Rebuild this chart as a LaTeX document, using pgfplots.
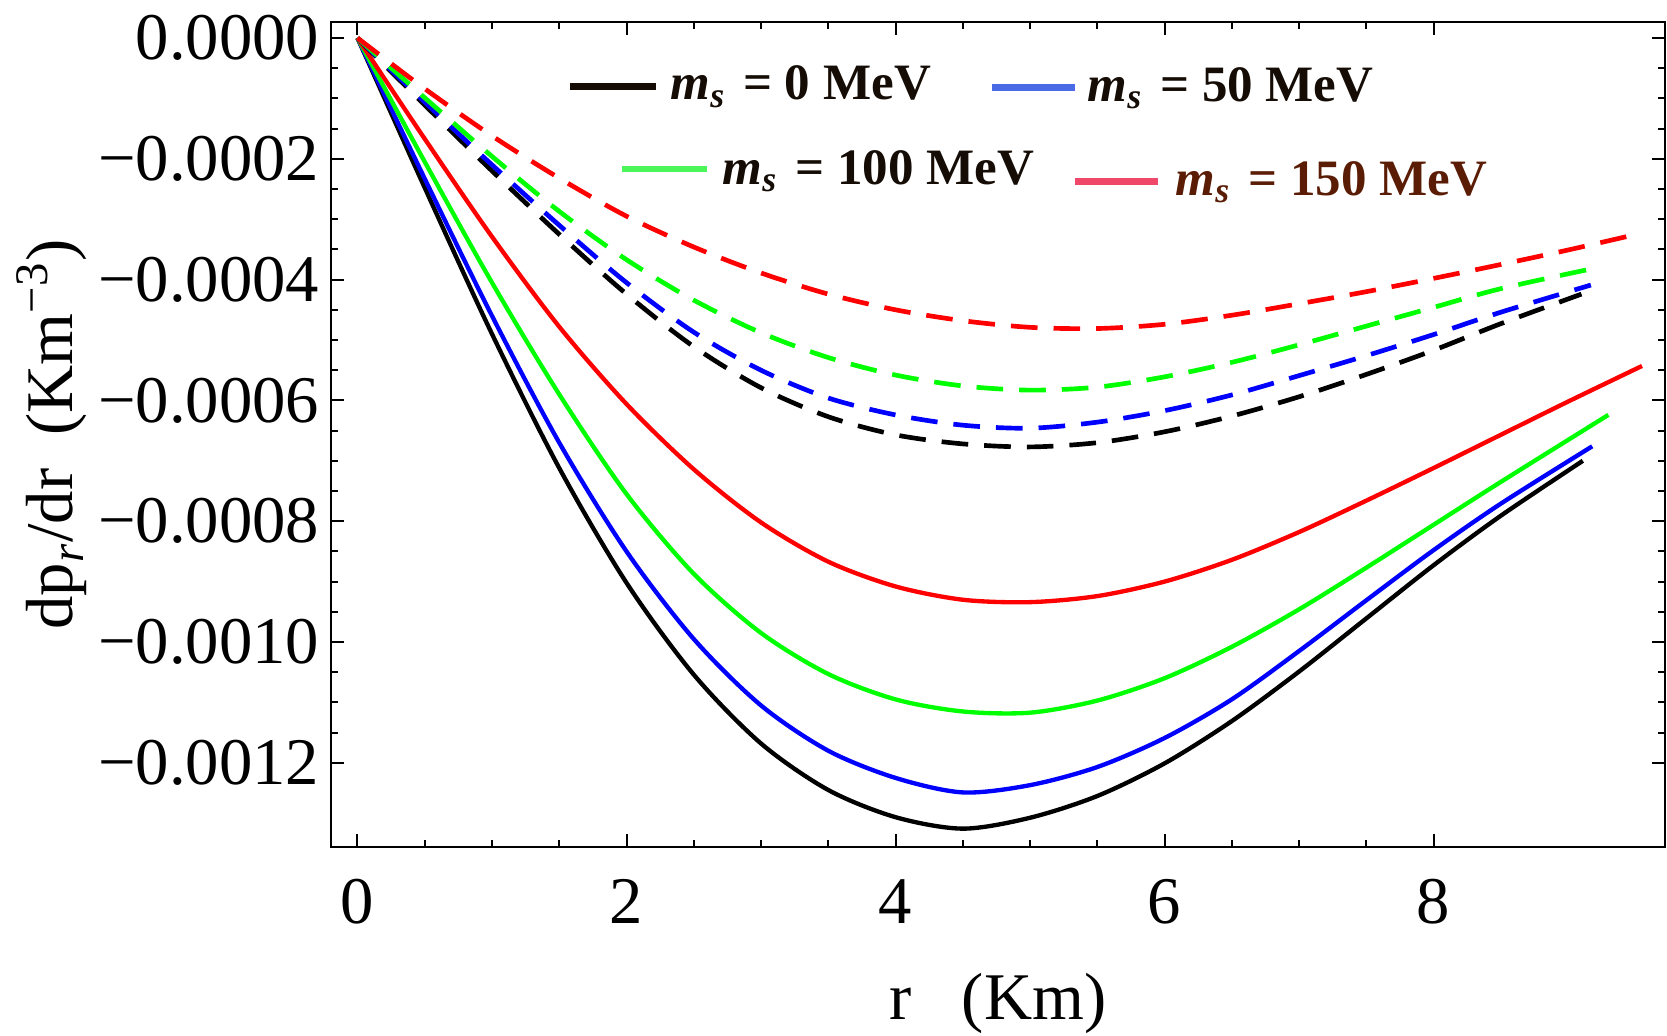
\documentclass[border=0pt]{standalone}
\usepackage{fontspec}
\setmainfont{Liberation Serif}
\usepackage{pgfplots}
\pgfplotsset{compat=1.18}
\definecolor{lgblack}{RGB}{20,12,5}
\definecolor{lgblue}{RGB}{74,106,230}
\definecolor{lggreen}{RGB}{76,245,90}
\definecolor{lgred}{RGB}{240,72,106}
\definecolor{txbrown}{RGB}{90,28,5}
\newcommand{\legfont}{\fontsize{15.3}{18}\selectfont\bfseries}
\newcommand{\ms}{\textit{m}\textsubscript{\textit{s}}\hspace{0.34em}=\hspace{0.25em}}
\begin{document}
\begin{tikzpicture}
\begin{axis}[
  at={(0,0)}, anchor=south west,
  scale only axis, width=400.2pt, height=247.5pt,
  xmin=-0.197, xmax=9.721, ymin=-0.0013394, ymax=0.0000265,
  xtick={0,2,4,6,8}, xticklabels={0,2,4,6,8},
  minor x tick num=3,
  ytick={-0.0012,-0.0010,-0.0008,-0.0006,-0.0004,-0.0002,0},
  yticklabels={−0.0012,−0.0010,−0.0008,−0.0006,−0.0004,−0.0002,0.0000},
  minor y tick num=3,
  scaled y ticks=false, scaled x ticks=false,
  tick align=inside,
  major tick length=3.8pt, minor tick length=2.2pt,
  every tick/.style={black, line width=0.6pt},
  axis line style={line width=0.6pt},
  tick label style={font=\fontsize{20}{24}\selectfont},
  xticklabel style={anchor=base, yshift=-22.8pt},
  label style={font=\fontsize{20}{24}\selectfont},
  xlabel={r\ \ \ (Km)},
  xlabel style={at={(axis description cs:0.5,-0.2085)}, anchor=base},
  ylabel={dp\textsubscript{\textit{r}}/dr\ \ (Km\textsuperscript{−3})},
  ylabel style={at={(axis description cs:-0.2091,0.5)}, anchor=center},
  every axis plot/.append style={smooth},
]
% solid curves
\addplot[black, line width=1.3pt] coordinates {
(0,0) (0.5,-0.000248) (1.0,-0.000490) (1.5,-0.000712) (2.0,-0.000902) (2.5,-0.001054)
(3.0,-0.001168) (3.5,-0.001245) (4.0,-0.001290) (4.5,-0.001309) (5.0,-0.001291)
(5.5,-0.001255) (6.0,-0.001201) (6.5,-0.001131) (7.0,-0.001049) (7.5,-0.000961)
(8.0,-0.000873) (8.5,-0.000791) (9.11,-0.000700)};
\addplot[blue, line width=1.3pt] coordinates {
(0,0) (0.5,-0.000233) (1.0,-0.000460) (1.5,-0.000670) (2.0,-0.000850) (2.5,-0.000995)
(3.0,-0.001105) (3.5,-0.001180) (4.0,-0.001225) (4.5,-0.001249) (5.0,-0.001237)
(5.5,-0.001207) (6.0,-0.001159) (6.5,-0.001095) (7.0,-0.001015) (7.5,-0.000931)
(8.0,-0.000848) (8.5,-0.000771) (9.18,-0.000676)};
\addplot[green, line width=1.3pt] coordinates {
(0,0) (0.5,-0.000205) (1.0,-0.000405) (1.5,-0.000590) (2.0,-0.000755) (2.5,-0.000887)
(3.0,-0.000985) (3.5,-0.001053) (4.0,-0.001095) (4.5,-0.001115) (5.0,-0.001117)
(5.5,-0.001097) (6.0,-0.001060) (6.5,-0.001008) (7.0,-0.000946) (7.5,-0.000877)
(8.0,-0.000806) (8.5,-0.000735) (9.30,-0.000624)};
\addplot[red, line width=1.3pt] coordinates {
(0,0) (0.5,-0.000167) (1.0,-0.000329) (1.5,-0.000478) (2.0,-0.000606) (2.5,-0.000714)
(3.0,-0.000802) (3.5,-0.000867) (4.0,-0.000908) (4.5,-0.000930) (5.0,-0.000934)
(5.5,-0.000924) (6.0,-0.000900) (6.5,-0.000864) (7.0,-0.000818) (7.5,-0.000766)
(8.0,-0.000712) (8.5,-0.000657) (9.0,-0.000602) (9.55,-0.000543)};
% dashed curves
\addplot[black, line width=1.4pt, dash pattern=on 8pt off 4.8pt] coordinates {
(0,0) (0.5,-0.000111) (1.0,-0.000220) (1.5,-0.000325) (2.0,-0.000424) (2.5,-0.000511)
(3.0,-0.000579) (3.5,-0.000627) (4.0,-0.000657) (4.5,-0.000672) (5.0,-0.000677)
(5.5,-0.000670) (6.0,-0.000652) (6.5,-0.000626) (7.0,-0.000594) (7.5,-0.000557)
(8.0,-0.000517) (8.5,-0.000473) (9.10,-0.000424)};
\addplot[blue, line width=1.4pt, dash pattern=on 8pt off 4.8pt] coordinates {
(0,0) (0.5,-0.000106) (1.0,-0.000210) (1.5,-0.000310) (2.0,-0.000405) (2.5,-0.000487)
(3.0,-0.000550) (3.5,-0.000596) (4.0,-0.000624) (4.5,-0.000641) (5.0,-0.000646)
(5.5,-0.000636) (6.0,-0.000617) (6.5,-0.000591) (7.0,-0.000559) (7.5,-0.000526)
(8.0,-0.000491) (8.5,-0.000454) (9.17,-0.000409)};
\addplot[green, line width=1.4pt, dash pattern=on 8pt off 4.8pt] coordinates {
(0,0) (0.5,-0.000099) (1.0,-0.000196) (1.5,-0.000287) (2.0,-0.000367) (2.5,-0.000434)
(3.0,-0.000488) (3.5,-0.000529) (4.0,-0.000558) (4.5,-0.000576) (5.0,-0.000583)
(5.5,-0.000578) (6.0,-0.000561) (6.5,-0.000537) (7.0,-0.000508) (7.5,-0.000477)
(8.0,-0.000446) (8.5,-0.000415) (9.20,-0.000381)};
\addplot[red, line width=1.4pt, dash pattern=on 8pt off 4.8pt] coordinates {
(0,0) (0.5,-0.000084) (1.0,-0.000162) (1.5,-0.000232) (2.0,-0.000295) (2.5,-0.000346)
(3.0,-0.000389) (3.5,-0.000424) (4.0,-0.000450) (4.5,-0.000468) (5.0,-0.000479)
(5.5,-0.000481) (6.0,-0.000474) (6.5,-0.000459) (7.0,-0.000440) (7.5,-0.000420)
(8.0,-0.000398) (8.5,-0.000375) (9.0,-0.000351) (9.49,-0.000326)};
% legend
\draw[lgblack, line width=2pt] (axis cs:1.580,-0.0000806) -- (axis cs:2.216,-0.0000806);
\node[anchor=base west, inner sep=0pt, font=\legfont, lgblack] at (axis cs:2.323,-0.0001026) {\ms 0 MeV};
\draw[lgblue, line width=2pt] (axis cs:4.717,-0.0000823) -- (axis cs:5.335,-0.0000823);
\node[anchor=base west, inner sep=0pt, font=\legfont, lgblack] at (axis cs:5.424,-0.0001055) {\ms 50 MeV};
\draw[lggreen, line width=2pt] (axis cs:1.966,-0.000217) -- (axis cs:2.595,-0.000217);
\node[anchor=base west, inner sep=0pt, font=\legfont, lgblack] at (axis cs:2.710,-0.000243) {\ms 100 MeV};
\draw[lgred, line width=2pt] (axis cs:5.335,-0.000238) -- (axis cs:5.952,-0.000238);
\node[anchor=base west, inner sep=0pt, font=\legfont, txbrown] at (axis cs:6.078,-0.000260) {\ms 150 MeV};
\end{axis}
\pgfresetboundingbox
\path (-99.3pt,-56.4pt) rectangle (400.8pt,254.1pt);
\end{tikzpicture}
\end{document}
